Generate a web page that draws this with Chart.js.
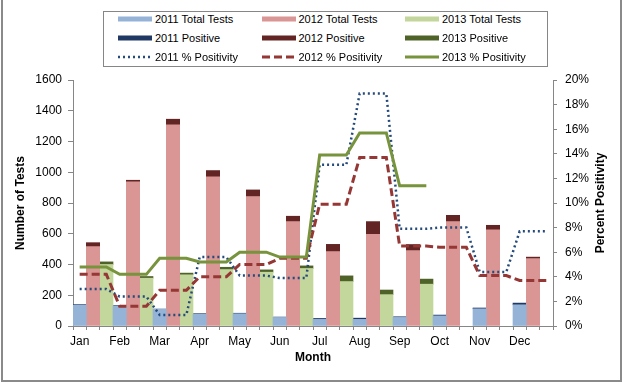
<!DOCTYPE html>
<html>
<head>
<meta charset="utf-8">
<title>Tests and Percent Positivity</title>
<script src="https://cdn.jsdelivr.net/npm/chart.js@4.4.1/dist/chart.umd.min.js"></script>
<style>
    body { margin: 0; background: #fff; font-family: "Liberation Sans", Arial, sans-serif; }
    #wrap { position: relative; width: 624px; height: 384px; overflow: hidden; }
    #frame {
        position: absolute; left: 1px; top: -2px; width: 621px; height: 384px;
        border: 2px solid #8a8a8a; box-sizing: border-box; pointer-events: none;
    }
    #legend {
        position: absolute; left: 103px; top: 11px; width: 445px; height: 56px;
        border: 1px solid #868686; box-sizing: border-box; background: #fff;
        font-size: 11px; color: #000;
    }
    .item { position: absolute; height: 14px; display: flex; align-items: center; white-space: nowrap; }
    .item canvas { margin-right: 3px; }
</style>
</head>
<body>
<div id="wrap">
    <canvas id="chart" width="624" height="384"></canvas>
    <div id="legend"></div>
    <div id="frame"></div>
</div>
<script>
const months = ["Jan", "Feb", "Mar", "Apr", "May", "Jun", "Jul", "Aug", "Sep", "Oct", "Nov", "Dec"];

// total tests per month
const tests2011 = [135, 130, 109, 76, 80, 56, 43, 43, 56, 66, 112, 138];
const tests2012 = [516, 937, 1308, 970, 842, 679, 484, 596, 490, 679, 625, 438];
const tests2013 = [400, 311, 333, 367, 350, 374, 289, 204, 272, null, null, null];

// positive tests per month (stacked on top of the totals)
const pos2011 = [4, 3, 1, 4, 3, 2, 6, 8, 4, 5, 5, 11];
const pos2012 = [26, 11, 37, 41, 43, 35, 47, 83, 40, 41, 30, 10];
const pos2013 = [17, 11, 11, 15, 15, 17, 37, 30, 33, null, null, null];

// percent positivity per month
const pct2011 = [3.0, 2.4, 0.9, 5.6, 4.1, 3.9, 13.1, 18.9, 7.9, 8.0, 4.4, 7.7];
const pct2012 = [4.2, 1.6, 2.9, 4.0, 5.0, 5.5, 9.9, 13.7, 6.5, 6.4, 4.1, 3.7];
const pct2013 = [4.8, 4.2, 5.5, 5.2, 6.0, 5.6, 13.9, 15.7, 11.4, null, null, null];

// each month has three slots on the x axis: 2011, 2012, 2013
const labels = months.flatMap((m) => [m, "", ""]);

function slot(values, year) {
    const out = [];
    values.forEach((v) => {
        for (let k = 0; k < 3; k++) out.push(k === year ? v : null);
    });
    return out;
}

function spread(values) {
    return values.flatMap((v) => [v, v, v]);
}

function bar(label, data, color) {
    return {
        type: "bar", label: label, data: data, backgroundColor: color,
        yAxisID: "y", order: 3, barPercentage: 1, categoryPercentage: 1,
    };
}

function line(label, data, color, width, dash, order) {
    return {
        type: "line", label: label, data: data, borderColor: color, backgroundColor: color,
        borderWidth: width, borderDash: dash, pointRadius: 0, tension: 0,
        yAxisID: "y1", order: order, fill: false,
    };
}

Chart.defaults.font.family = '"Liberation Sans", Arial, sans-serif';
Chart.defaults.font.size = 12;
Chart.defaults.color = "#000";

const rightTitle = {
    id: "rightTitle",
    afterDraw(chart) {
        const ctx = chart.ctx;
        const area = chart.chartArea;
        ctx.save();
        ctx.translate(chart.scales.y1.right - 23, (area.top + area.bottom) / 2);
        ctx.rotate(-Math.PI / 2);
        ctx.font = 'bold 12px "Liberation Sans", Arial, sans-serif';
        ctx.fillStyle = "#000";
        ctx.textAlign = "center";
        ctx.textBaseline = "middle";
        ctx.fillText("Percent Positivity", 0, 0);
        ctx.restore();
    },
};

const ctx = document.getElementById("chart").getContext("2d");
const chart = new Chart(ctx, {
    data: {
        labels: labels,
        datasets: [
            bar("2011 Total Tests", slot(tests2011, 0), "#95B3D7"),
            bar("2012 Total Tests", slot(tests2012, 1), "#D99694"),
            bar("2013 Total Tests", slot(tests2013, 2), "#C3D69B"),
            bar("2011 Positive", slot(pos2011, 0), "#1F3864"),
            bar("2012 Positive", slot(pos2012, 1), "#632523"),
            bar("2013 Positive", slot(pos2013, 2), "#4F6228"),
            line("2011 % Positivity", spread(pct2011), "#254A7C", 2.5, [2, 3], 2),
            line("2012 % Positivity", spread(pct2012), "#953735", 3, [8, 4], 1),
            line("2013 % Positivity", spread(pct2013), "#77933C", 3, [], 0),
        ],
    },
    options: {
        responsive: false,
        animation: false,
        layout: { padding: { top: 80, left: 0, right: 0, bottom: 0 } },
        plugins: {
            legend: { display: false },
            tooltip: { enabled: false },
        },
        scales: {
            x: {
                stacked: true,
                grid: { drawOnChartArea: false, tickLength: 4, color: "#868686", offset: true },
                border: { color: "#868686" },
                ticks: { autoSkip: false, maxRotation: 0, padding: 4 },
                title: { display: true, text: "Month", font: { size: 12, weight: "bold" }, padding: { top: 0, bottom: 19 } },
                afterFit: (s) => { s.height = 58; },
            },
            y: {
                stacked: true,
                position: "left",
                min: 0,
                max: 1600,
                ticks: { stepSize: 200, padding: 6, callback: (v) => String(v) },
                grid: { drawOnChartArea: false, tickLength: 5, color: "#868686" },
                border: { color: "#868686" },
                title: { display: true, text: "Number of Tests", font: { size: 12, weight: "bold" }, padding: { top: 13, bottom: 0 } },
                afterFit: (s) => { s.width = 73; },
            },
            y1: {
                position: "right",
                min: 0,
                max: 20,
                ticks: { stepSize: 2, padding: 8, callback: (v) => v + "%" },
                grid: { drawOnChartArea: false, tickLength: 4, color: "#868686" },
                border: { color: "#868686" },
                afterFit: (s) => { s.width = 71; },
            },
        },
    },
    plugins: [rightTitle],
});

// legend: three columns, one row per kind of series
const legend = document.getElementById("legend");
chart.data.datasets.forEach((ds, i) => {
    const col = i % 3;
    const row = Math.floor(i / 3);
    const item = document.createElement("div");
    item.className = "item";
    item.style.left = (14 + col * 143.5) + "px";
    item.style.top = (0 + row * 18.8) + "px";

    const sw = document.createElement("canvas");
    sw.width = 34;
    sw.height = 8;
    const c = sw.getContext("2d");
    if (ds.type === "bar") {
        c.fillStyle = ds.backgroundColor;
        c.fillRect(0, 1.5, 34, 5);
    } else {
        c.strokeStyle = ds.borderColor;
        c.lineWidth = ds.borderWidth;
        c.setLineDash(ds.borderDash);
        c.beginPath();
        c.moveTo(0, 4);
        c.lineTo(34, 4);
        c.stroke();
    }
    item.appendChild(sw);
    const txt = document.createElement("span");
    txt.textContent = ds.label;
    item.appendChild(txt);
    legend.appendChild(item);
});
</script>
</body>
</html>
